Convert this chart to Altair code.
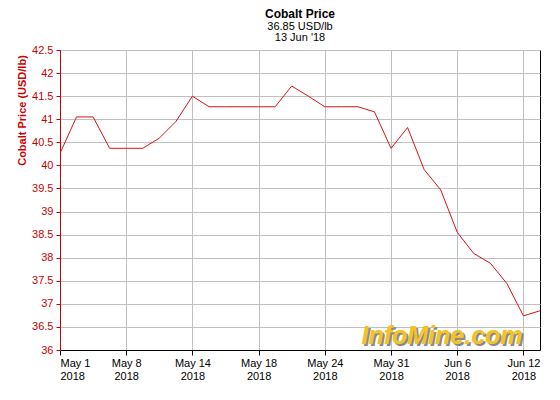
import altair as alt
import pandas as pd

# Daily cobalt price (USD/lb), trading-day index 0..29
prices = [40.26, 41.05, 41.05, 40.37, 40.37, 40.37, 40.59, 40.95, 41.50, 41.27,
          41.27, 41.27, 41.27, 41.27, 41.72, 41.50, 41.27, 41.27, 41.27, 41.16,
          40.37, 40.82, 39.91, 39.47, 38.55, 38.09, 37.88, 37.44, 36.74, 36.85]
tick_positions = [0, 4, 8, 12, 16, 20, 24, 28]
tick_months = ["May 1", "May 8", "May 14", "May 18", "May 24", "May 31", "Jun 6", "Jun 12"]
tick_years = ["2018"] * 8
y_ticks = [36 + 0.5 * i for i in range(14)]

df = pd.DataFrame({"idx": list(range(len(prices))), "price": prices})

label_map = "{" + ",".join(
    f"'{p}': ['{m}', '{y}']" for p, m, y in zip(tick_positions, tick_months, tick_years)
) + "}"

FONT = "Liberation Sans"
RED = "#cc0000"

line = alt.Chart(df).mark_line(color="#dd1111", strokeWidth=1, clip=True).encode(
    x=alt.X("idx:Q",
            scale=alt.Scale(domain=[0, len(prices) - 1], nice=False, zero=False),
            axis=alt.Axis(values=tick_positions, title=None,
                          labelExpr=f"{label_map}[''+datum.value]",
                          labelColor="black", domainColor="black", tickColor="black",
                          tickSize=5, labelPadding=2, labelFontSize=11,
                          labelFont=FONT, gridColor="#c0c0c0", labelLineHeight=13)),
    y=alt.Y("price:Q",
            scale=alt.Scale(domain=[36, 42.5], nice=False, zero=False),
            axis=alt.Axis(values=y_ticks, format="~g", title="Cobalt Price (USD/lb)",
                          titleColor=RED, titleFont=FONT, titleFontSize=11,
                          titleFontWeight="bold", titleX=-38, titleY=60,
                          titleBaseline="middle", titleAlign="center", titleAngle=270,
                          labelColor=RED, domainColor=RED, tickColor=RED,
                          tickSize=4, labelPadding=3, labelFontSize=11,
                          labelFont=FONT, gridColor="#c0c0c0")),
)

wm = pd.DataFrame({"t": ["InfoMine.com"]})
shadow = alt.Chart(wm).mark_text(
    font=FONT, fontSize=25, fontWeight="bold", fontStyle="italic",
    color="#8a8a8a", align="center", baseline="middle"
).encode(text="t:N", x=alt.value(384), y=alt.value(288))
mark = alt.Chart(wm).mark_text(
    font=FONT, fontSize=25, fontWeight="bold", fontStyle="italic",
    color="#f6c21c", align="center", baseline="middle"
).encode(text="t:N", x=alt.value(382), y=alt.value(286))

chart = alt.layer(line, shadow, mark).properties(
    width=480, height=300,
    autosize=alt.AutoSizeParams(type="none"),
    padding={"left": 52, "top": 42, "right": 12, "bottom": 42},
    title=alt.TitleParams(
        text="Cobalt Price", subtitle=["36.85 USD/lb", "13 Jun '18"],
        font=FONT, fontSize=12, fontWeight="bold", color="black",
        subtitleFont=FONT, subtitleFontSize=11, subtitleColor="black",
        subtitlePadding=0, subtitleLineHeight=11, anchor="middle", offset=0,
    ),
).configure_view(stroke="black", strokeWidth=1).configure_axis(domainWidth=1)

chart.save("out.html", embed_options={"renderer": "svg", "actions": False})
